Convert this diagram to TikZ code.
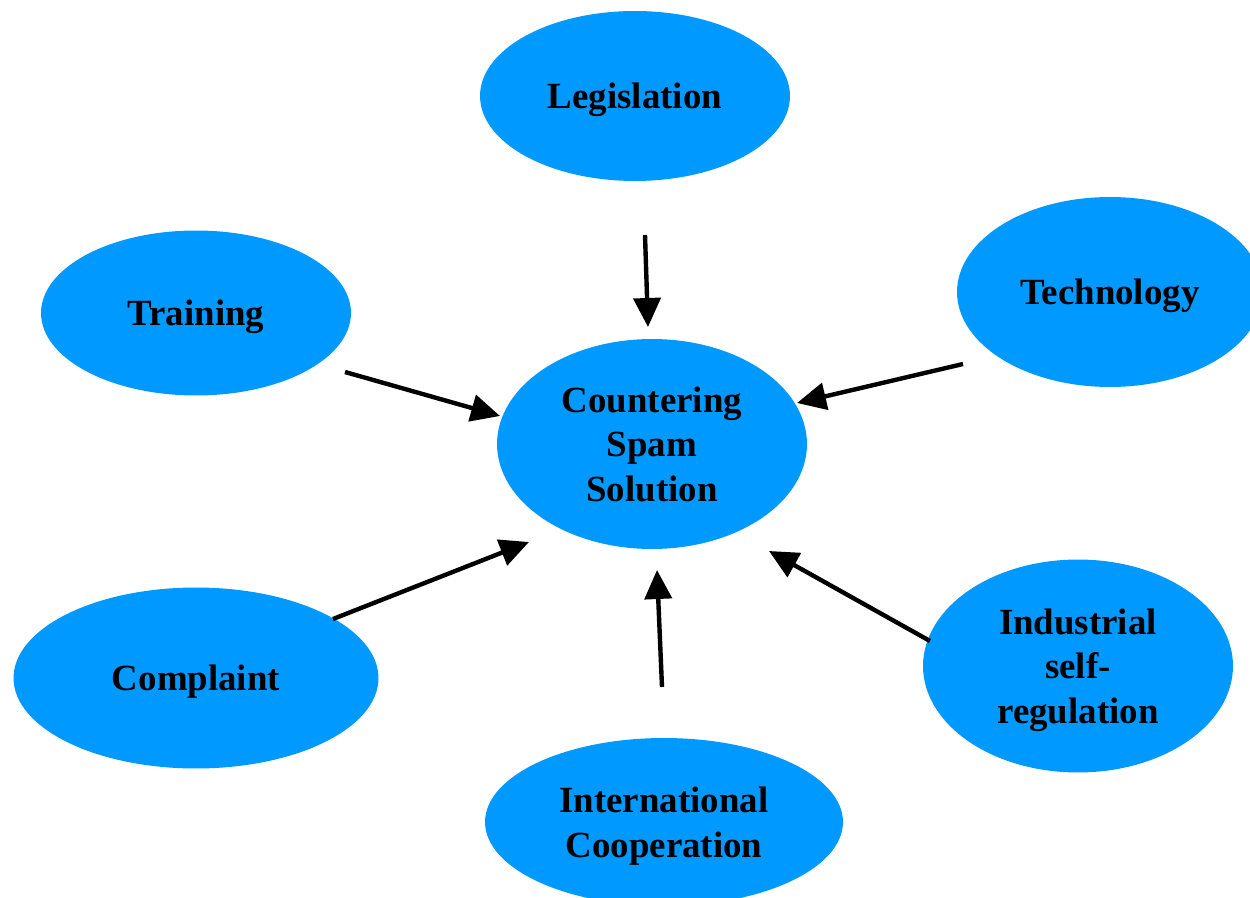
\documentclass[tikz,border=0pt]{standalone}
\usepackage{fontspec}
\setmainfont{Liberation Serif}
\usepackage{xcolor}
\usetikzlibrary{positioning,shapes.geometric,arrows.meta}
\pgfdeclarelayer{nodelayer}
\pgfdeclarelayer{edgelayer}
\pgfsetlayers{main,nodelayer,edgelayer}
\definecolor{spamblue}{HTML}{0099FF}
\tikzstyle{factor}=[fill=spamblue, draw=none, shape=ellipse, inner sep=0pt, text depth=0pt, align=center, font=\bfseries\fontsize{21}{25.5}\selectfont]
\tikzstyle{spoke}=[-{Triangle[length=0.58cm, width=0.54cm]}, draw=black, line width=2.5pt]

\begin{document}
\begin{tikzpicture}[x=0.02cm, y=-0.02cm]
        \useasboundingbox (0,0) rectangle (1250,898);
        \begin{pgfonlayer}{nodelayer}
            \node[style=factor, minimum width=6.2cm, minimum height=4.2cm] (core) at (652,444) {Countering\\Spam\\Solution};
            \node[style=factor, minimum width=6.2cm, minimum height=3.4cm] (legis) at (635,96) {Legislation};
            \node[style=factor, minimum width=6.2cm, minimum height=3.3cm] (train) at (196,313) {Training};
            \node[style=factor, minimum width=6.12cm, minimum height=3.8cm] (tech) at (1110,292) {Technology};
            \node[style=factor, minimum width=7.3cm, minimum height=3.62cm] (compl) at (196,678) {Complaint};
            \node[style=factor, minimum width=6.2cm, minimum height=4.26cm] (indus) at (1078,666) {Industrial\\self-\\regulation};
            \node[style=factor, minimum width=7.16cm, minimum height=3.36cm] (intl) at (664,822) {International\\Cooperation};
        \end{pgfonlayer}
        \begin{pgfonlayer}{edgelayer}
            \coordinate (legis-out) at (645,235);
            \coordinate (legis-in) at (648,327);
            \coordinate (train-out) at (345,372);
            \coordinate (train-in) at (500,416);
            \coordinate (tech-out) at (963,364);
            \coordinate (tech-in) at (797,403);
            \coordinate (compl-out) at (333,619);
            \coordinate (compl-in) at (529,542);
            \coordinate (indus-out) at (930,641);
            \coordinate (indus-in) at (769,551);
            \coordinate (intl-out) at (662,687);
            \coordinate (intl-in) at (657,570);
            \draw[style=spoke] (legis-out) -- (legis-in);
            \draw[style=spoke] (train-out) -- (train-in);
            \draw[style=spoke] (tech-out) -- (tech-in);
            \draw[style=spoke] (compl-out) -- (compl-in);
            \draw[style=spoke] (indus-out) -- (indus-in);
            \draw[style=spoke] (intl-out) -- (intl-in);
        \end{pgfonlayer}
    \end{tikzpicture}
\end{document}
